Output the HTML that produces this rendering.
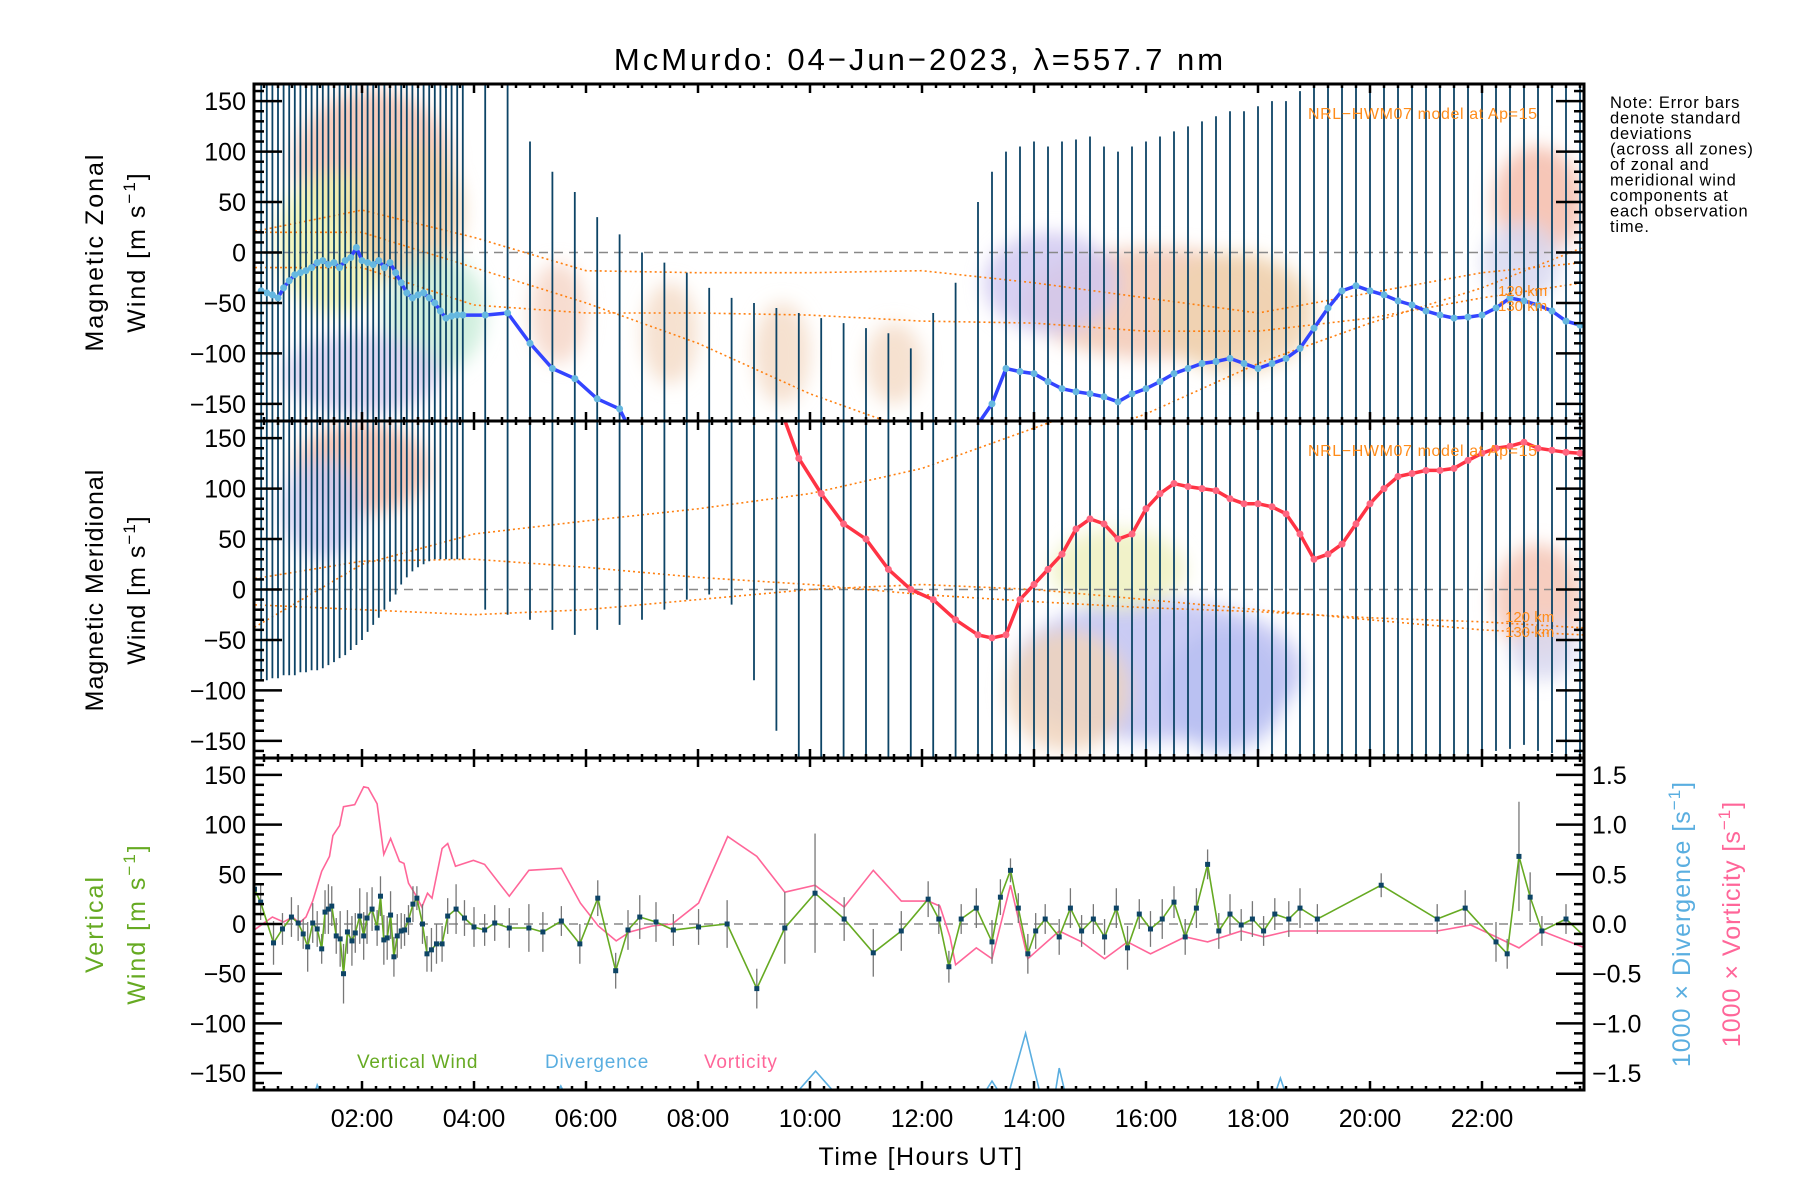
<!DOCTYPE html>
<html><head><meta charset="utf-8"><style>
body{margin:0;background:#fff;}
svg{display:block;font-family:"Liberation Sans",sans-serif;}
</style></head><body>
<svg id="chart" width="1800" height="1200" viewBox="0 0 1800 1200" xmlns="http://www.w3.org/2000/svg">
<defs>
<filter id="blur" x="-50%" y="-50%" width="200%" height="200%"><feGaussianBlur stdDeviation="9"/></filter>
<clipPath id="c1"><rect x="254" y="84" width="1330" height="337"/></clipPath>
<clipPath id="c2"><rect x="254" y="421" width="1330" height="337"/></clipPath>
<clipPath id="c3"><rect x="254" y="758" width="1330" height="332"/></clipPath>
</defs>
<text x="920" y="70" font-size="31" letter-spacing="3" text-anchor="middle">McMurdo: 04−Jun−2023, λ=557.7 nm</text>
<g id="layers"></g>
<text font-size="16.5" letter-spacing="0.8" x="1610">
<tspan x="1610" y="108">Note: Error bars</tspan><tspan x="1610" y="123.5">denote standard</tspan><tspan x="1610" y="139">deviations</tspan><tspan x="1610" y="154.5">(across all zones)</tspan><tspan x="1610" y="170">of zonal and</tspan><tspan x="1610" y="185.5">meridional wind</tspan><tspan x="1610" y="201">components at</tspan><tspan x="1610" y="216.5">each observation</tspan><tspan x="1610" y="232">time.</tspan></text>
<text x="921" y="1165" font-size="25" letter-spacing="1.5" text-anchor="middle">Time [Hours UT]</text>
<g font-size="25" letter-spacing="2" text-anchor="middle">
<text transform="translate(103,252) rotate(-90)">Magnetic Zonal</text>
<text transform="translate(145,252) rotate(-90)">Wind [m s<tspan dy="-10" font-size="17">−1</tspan><tspan dy="10">]</tspan></text></g>
<g font-size="25" letter-spacing="1" text-anchor="middle">
<text transform="translate(103,590) rotate(-90)">Magnetic Meridional</text>
<text transform="translate(145,590) rotate(-90)">Wind [m s<tspan dy="-10" font-size="17">−1</tspan><tspan dy="10">]</tspan></text></g>
<g font-size="25" letter-spacing="2" text-anchor="middle" fill="#66aa22">
<text transform="translate(103,924) rotate(-90)">Vertical</text>
<text transform="translate(145,924) rotate(-90)">Wind [m s<tspan dy="-10" font-size="17">−1</tspan><tspan dy="10">]</tspan></text></g>
<text font-size="25" letter-spacing="1" text-anchor="middle" fill="#5aaee0" transform="translate(1690,924) rotate(-90)">1000 × Divergence [s<tspan dy="-10" font-size="17">−1</tspan><tspan dy="10">]</tspan></text>
<text font-size="25" letter-spacing="1" text-anchor="middle" fill="#ff6699" transform="translate(1740,924) rotate(-90)">1000 × Vorticity [s<tspan dy="-10" font-size="17">−1</tspan><tspan dy="10">]</tspan></text>
<text x="357" y="1068" font-size="19" letter-spacing="0.8" fill="#66aa22">Vertical Wind</text>
<text x="545" y="1068" font-size="19" letter-spacing="0.8" fill="#5aaee0">Divergence</text>
<text x="704" y="1068" font-size="19" letter-spacing="0.8" fill="#ff6699">Vorticity</text>
<text x="1308" y="119" font-size="16" letter-spacing="0.6" fill="#ff8c1a">NRL−HWM07 model at Ap=15</text>
<text x="1308" y="456" font-size="16" letter-spacing="0.6" fill="#ff8c1a">NRL−HWM07 model at Ap=15</text>
<text x="1498" y="296" font-size="15" fill="#ff8c1a">120 km</text>
<text x="1498" y="311" font-size="15" fill="#ff8c1a">130 km</text>
<text x="1505" y="622" font-size="15" fill="#ff8c1a">120 km</text>
<text x="1505" y="637" font-size="15" fill="#ff8c1a">130 km</text>
</svg>
<script>
// ---- data ----
const obsT=[0.2,0.3,0.4,0.5,0.6,0.7,0.8,0.9,1.0,1.1,1.2,1.3,1.4,1.5,1.6,1.7,1.8,1.9,2.0,2.1,2.2,2.3,2.4,2.5,2.6,2.7,2.8,2.9,3.0,3.1,3.2,3.3,3.4,3.5,3.6,3.7,3.8,
4.2,4.6,5.0,5.4,5.8,6.2,6.6,7.0,7.4,7.8,8.2,8.6,9.0,9.4,
9.8,10.2,10.6,11.0,11.4,11.8,12.2,12.6,
13.0,13.25,13.5,13.75,14.0,14.25,14.5,14.75,15.0,15.25,15.5,15.75,16.0,16.25,16.5,16.75,17.0,17.25,17.5,17.75,18.0,18.25,18.5,18.75,19.0,19.25,19.5,19.75,20.0,20.25,20.5,20.75,21.0,21.25,21.5,21.75,22.0,22.25,22.5,22.75,23.0,23.25,23.5,23.75];
const zonal=[-38,-40,-42,-45,-35,-28,-22,-20,-18,-15,-10,-8,-12,-10,-15,-8,-5,5,-8,-10,-12,-8,-15,-10,-20,-30,-40,-45,-42,-40,-45,-50,-58,-65,-63,-62,-62,
-62,-60,-90,-115,-125,-145,-155,-200,-220,-240,-250,-260,-250,-240,
-250,-250,-250,-250,-250,-250,-250,-230,
-170,-150,-115,-118,-120,-128,-135,-138,-140,-143,-148,-140,-135,-128,-120,-115,-110,-108,-105,-110,-115,-110,-105,-95,-75,-55,-38,-33,-38,-42,-48,-52,-58,-62,-65,-64,-62,-55,-45,-48,-52,-58,-68,-72];
const zonalSd=[240,250,245,255,240,235,250,245,240,255,250,245,240,250,255,245,240,250,245,250,240,255,245,250,240,245,250,255,245,240,250,245,255,250,245,240,250,
262,260,200,195,185,180,173,200,210,220,215,215,200,185,
190,185,180,175,170,155,190,200,
220,230,215,223,230,233,245,250,255,248,248,245,245,243,240,240,240,243,245,250,260,260,255,255,250,250,255,250,245,250,255,250,245,250,255,250,245,250,255,250,245,250,255,250];
const merid=[220,220,220,220,220,220,220,220,220,220,220,220,220,220,220,220,220,220,220,220,220,220,220,220,220,220,220,220,220,220,220,220,220,220,220,220,220,
220,220,220,220,220,220,220,220,220,220,220,220,220,190,
130,95,65,50,20,0,-10,-30,
-45,-48,-45,-10,5,20,35,60,70,65,50,55,80,95,105,102,100,98,90,85,85,82,75,55,30,35,45,65,85,100,112,115,118,118,120,128,135,140,142,146,140,138,136,135];
const meridSd=[310,310,308,308,305,305,305,302,302,300,300,298,295,292,288,285,280,275,270,262,255,248,240,232,225,215,208,202,198,195,192,190,190,190,190,190,190,
240,245,250,260,265,260,255,250,240,230,225,235,310,330,
350,350,350,350,350,350,350,350,
300,300,300,300,300,300,300,300,300,300,300,300,300,300,300,300,300,300,300,300,300,300,300,300,300,300,300,300,300,300,300,300,300,300,300,300,300,300,300,300,300,300,300,300];
const wT=[0.08,0.19,0.42,0.58,0.74,0.86,0.95,1.03,1.12,1.2,1.28,1.34,1.4,1.46,1.54,1.61,1.67,1.74,1.82,1.88,1.96,2.03,2.09,2.18,2.27,2.33,2.39,2.45,2.51,2.57,2.63,2.7,2.76,2.83,2.91,2.98,3.08,3.16,3.24,3.33,3.43,3.53,3.68,3.83,4.0,4.19,4.37,4.63,4.98,5.23,5.56,5.89,6.21,6.53,6.75,6.96,7.25,7.56,8.01,8.52,9.05,9.55,10.09,10.61,11.13,11.63,12.11,12.3,12.48,
12.7,12.97,13.25,13.4,13.58,13.72,13.89,14.03,14.2,14.45,14.65,14.85,15.06,15.26,15.47,15.67,15.88,16.08,16.29,16.5,16.7,16.9,17.1,17.3,17.5,17.7,17.9,18.1,18.3,18.55,18.75,19.06,20.2,21.2,21.7,22.25,22.45,22.66,22.86,23.07,23.5,23.84];
const wV=[35,22,-19,-5,7,1,-10,-23,1,-5,-25,12,15,18,-12,-15,-50,-8,-17,-9,8,-12,6,15,-4,28,-16,-14,9,-33,-12,-7,-6,4,20,26,0,-30,-26,-20,-20,8,15,6,-3,-6,1,-4,-4,-8,3,-20,26,-47,-6,7,2,-6,-3,0,-65,-4,31,5,-29,-7,25,5,-43,
5,16,-18,27,54,16,-30,-7,5,-13,16,-7,5,-13,16,-24,10,-5,5,22,-13,16,60,-7,10,-1,5,-7,10,5,16,5,39,5,16,-18,-30,68,27,-7,5,-13];
const wSd=[20,18,22,16,20,18,15,25,20,18,15,22,25,20,18,28,30,22,25,20,28,24,26,22,18,20,25,22,24,20,22,18,16,15,18,12,20,18,22,20,18,18,25,18,20,16,18,20,24,20,15,20,18,18,20,22,20,16,18,24,20,36,60,22,24,20,18,15,16,
15,20,22,18,12,15,20,18,15,18,20,16,15,18,20,22,15,18,20,16,18,20,15,18,20,16,18,15,16,18,20,15,12,15,18,20,15,55,25,15,15,18];
const vortT=[0.05,0.4,0.6,0.76,0.88,1.0,1.12,1.28,1.42,1.48,1.6,1.67,1.87,2.03,2.11,2.27,2.39,2.51,2.67,2.75,2.83,2.95,3.07,3.17,3.25,3.43,3.53,3.67,3.99,4.19,4.63,4.98,5.56,5.9,6.22,6.54,6.78,7.18,7.54,8.01,8.53,9.05,9.55,10.09,10.61,11.13,11.63,12.11,12.32,12.5,
12.6,12.97,13.25,13.58,13.89,14.45,14.85,15.26,15.67,16.08,16.7,17.1,17.7,18.1,18.55,19.06,20.2,21.2,21.8,22.25,22.66,23.07,23.84];
const vortV=[-0.07,0.07,0.02,0.07,0.01,0.07,0.23,0.53,0.68,0.89,0.99,1.18,1.2,1.38,1.37,1.21,0.7,0.86,0.63,0.61,0.41,0.3,0.17,0.31,0.26,0.76,0.81,0.58,0.64,0.6,0.28,0.54,0.56,0.21,-0.02,-0.17,-0.08,-0.02,0,0.21,0.88,0.68,0.32,0.39,0.17,0.54,0.23,0.23,0.18,-0.13,
-0.41,-0.24,-0.35,0.39,-0.35,-0.07,-0.18,-0.35,-0.18,-0.3,-0.13,-0.18,-0.07,-0.13,-0.07,-0.07,-0.07,-0.07,-0.01,-0.13,-0.24,-0.07,-0.24];
const divT=[0.1,1.1,1.2,1.35,5.4,5.55,5.7,9.6,10.1,10.6,13.0,13.25,13.5,13.85,14.15,14.35,14.45,14.6,18.25,18.4,18.55,23.8];
const divV=[-1.8,-1.8,-1.62,-1.8,-1.8,-1.63,-1.8,-1.8,-1.48,-1.8,-1.8,-1.58,-1.8,-1.1,-1.8,-1.8,-1.45,-1.8,-1.8,-1.55,-1.8,-1.8];
const hwmT=[0,2,4,6,8,10,12,14,16,18,20,22,23.8];
const hwmZ1=[20,42,15,-18,-20,-20,-18,-30,-45,-60,-40,-20,-10];
const hwmZ2=[-15,-15,-52,-60,-60,-62,-68,-70,-78,-78,-65,-45,-30];
const hwmZ3=[20,20,-15,-50,-90,-140,-180,-200,-160,-110,-70,-35,5];
const hwmM1=[-40,25,55,68,80,95,120,160,200,220,220,220,220];
const hwmM2=[10,28,30,22,12,5,-5,-12,-18,-22,-28,-32,-38];
const hwmM3=[-15,-20,-25,-20,-10,0,5,0,-10,-20,-30,-40,-45];
const yTicks=[-150,-100,-50,0,50,100,150];
const rTickLabels=["−1.5","−1.0","−0.5","0.0","0.5","1.0","1.5"];
const xTickLabels=["02:00","04:00","06:00","08:00","10:00","12:00","14:00","16:00","18:00","20:00","22:00"];
const xTickHours=[2,4,6,8,10,12,14,16,18,20,22];
// cloud blobs (h, v, rh, rv, colour) – background scatter density
const cloudH=[2.2,1.5,2.8,3.3,2.0,16.2,14.3,17.6,23,22.7,2,1.3,16.2,14.6,17.4,23,5.5,7.5,9.5,11.5,15.5,23.1];
const cloudV=[90,10,40,-60,-120,-50,-30,-60,50,-10,120,80,-80,-100,-100,-10,-60,-80,-100,-110,20,-60];
const cloudRH=[1.4,1.0,1.0,0.9,1.4,2.4,1.2,1.4,0.8,0.7,1.2,0.7,2.6,1.1,1.1,0.8,0.5,0.5,0.5,0.5,1.2,0.6];
const cloudRV=[70,70,70,60,40,55,50,60,55,40,45,50,70,60,60,55,50,50,50,40,40,30];
const cloudPanel=[1,1,1,1,1,1,1,1,1,1,2,2,2,2,2,2,1,1,1,1,2,2];
const cloudCol=["#f4c2b0","#eef2b0","#f0cfa8","#c8ecd8","#d8d0f0","#f2c8b4","#d0c8f0","#f0d4b0","#f4bcaa","#d8d8f0","#f4bcaa","#ccccf2","#bfc2f2","#f0d4bc","#b8c0f2","#f4c4b4","#f6d6c8","#f4dcc8","#f4dcc8","#f4dcc8","#eef0c0","#d8d8f0"];

// ---- scales ----
const X0=250,XK=56,L=254,R=1584;
const xS=h=>X0+XK*h;
const panels=[{top:84,bot:421},{top:421,bot:758},{top:758,bot:1090}];
const yS=(v,p)=>{const P=panels[p];return P.top+(167-v)/334*(P.bot-P.top);};
const NS="http://www.w3.org/2000/svg";
const root=document.getElementById('layers');
function mk(tag,attrs,parent){const e=document.createElementNS(NS,tag);for(const k in attrs)e.setAttribute(k,attrs[k]);(parent||root).appendChild(e);return e;}
function grp(name,clip){const g=mk('g',clip?{'clip-path':'url(#'+clip+')'}:{});return g;}
function pts(ts,vs,p,k){let s=[];for(let i=0;i<Math.min(ts.length,vs.length);i++)s.push(xS(ts[i]).toFixed(1)+','+yS(vs[i]*(k||1),p).toFixed(1));return s.join(' ');}

// clouds
const gc1=grp('scatter-cloud-zonal','c1'),gc2=grp('scatter-cloud-meridional','c2');
const gi1=mk('g',{filter:'url(#blur)'},gc1),gi2=mk('g',{filter:'url(#blur)'},gc2);
for(let i=0;i<cloudH.length;i++){const p=cloudPanel[i]-1;const g=p?gi2:gi1;
 const e=mk('ellipse',{cx:xS(cloudH[i]),cy:yS(cloudV[i],p),rx:cloudRH[i]*XK,ry:cloudRV[i]*(panels[p].bot-panels[p].top)/334,fill:cloudCol[i],opacity:0.85},g);
 }

// zero lines
for(let p=0;p<3;p++){const z=mk('line',{x1:L,x2:R,y1:yS(0,p),y2:yS(0,p),stroke:'#888','stroke-width':1.5,'stroke-dasharray':'9,6'});
 }

// HWM model lines
const hz=[hwmZ1,hwmZ2,hwmZ3],hm=[hwmM1,hwmM2,hwmM3];
const gh1=grp('hwm-model-zonal','c1'),gh2=grp('hwm-model-meridional','c2');
hz.forEach(a=>{const l=mk('polyline',{points:pts(hwmT,a,0),fill:'none',stroke:'#ff8010','stroke-width':1.6,'stroke-dasharray':'2,3'},gh1);});
hm.forEach(a=>{const l=mk('polyline',{points:pts(hwmT,a,1),fill:'none',stroke:'#ff8010','stroke-width':1.6,'stroke-dasharray':'2,3'},gh2);});

// error bars
const ge1=grp('zonal-error-bars','c1'),ge2=grp('meridional-error-bars','c2');
for(let i=0;i<obsT.length;i++){const x=xS(obsT[i]);
 const a=mk('line',{x1:x,x2:x,y1:yS(zonal[i]+zonalSd[i],0),y2:yS(zonal[i]-zonalSd[i],0),stroke:'#0d4466','stroke-width':1.8},ge1);
 
 const b=mk('line',{x1:x,x2:x,y1:yS(merid[i]+meridSd[i],1),y2:yS(merid[i]-meridSd[i],1),stroke:'#0d4466','stroke-width':1.8},ge2);
 }

// wind lines
const gl1=grp('zonal-wind-series','c1'),gl2=grp('meridional-wind-series','c2');
const zl=mk('polyline',{points:pts(obsT,zonal,0),fill:'none',stroke:'#3344ff','stroke-width':3.5},gl1);

const ml=mk('polyline',{points:pts(obsT,merid,1),fill:'none',stroke:'#ff3344','stroke-width':3.5},gl2);

for(let i=0;i<obsT.length;i++){
 const a=mk('circle',{cx:xS(obsT[i]),cy:yS(zonal[i],0),r:3.5,fill:'#66b8e0'},gl1);
 const b=mk('circle',{cx:xS(obsT[i]),cy:yS(merid[i],1),r:3.5,fill:'#ff6680'},gl2);}

// panel 3
const g3=grp('vertical-panel-series','c3');
const dv=mk('polyline',{points:pts(divT,divV,2,100),fill:'none',stroke:'#5aaee0','stroke-width':1.6},g3);

const vo=mk('polyline',{points:pts(vortT,vortV,2,100),fill:'none',stroke:'#ff6699','stroke-width':1.6},g3);

for(let i=0;i<Math.min(wT.length,wV.length,wSd.length);i++){const x=xS(wT[i]);
 const e=mk('line',{x1:x,x2:x,y1:yS(wV[i]+wSd[i],2),y2:yS(wV[i]-wSd[i],2),stroke:'#777','stroke-width':1.3},g3);
 }
const wl=mk('polyline',{points:pts(wT,wV,2),fill:'none',stroke:'#66aa22','stroke-width':1.6},g3);

for(let i=0;i<wT.length;i++){const r=mk('rect',{x:xS(wT[i])-2.5,y:yS(wV[i],2)-2.5,width:5,height:5,fill:'#0d4466'},g3);
 }

// axes
const ga=grp('axes',null);
for(let p=0;p<3;p++){const P=panels[p];
 const f=mk('rect',{x:L,y:P.top,width:R-L,height:P.bot-P.top,fill:'none',stroke:'#000','stroke-width':3},ga);
 
 for(let v=-160;v<=160;v+=10){const y=yS(v,p);const len=(v%50===0)?28:10;
  mk('line',{x1:L,x2:L+len,y1:y,y2:y,stroke:'#000','stroke-width':2.5},ga);
  mk('line',{x1:R,x2:R-len,y1:y,y2:y,stroke:'#000','stroke-width':2.5},ga);}
 for(let h=0.25;h<23.9;h+=0.25){const x=xS(h);if(x<L||x>R)continue;const len=(Math.abs(h%2)<0.01)?9:4;
  mk('line',{x1:x,x2:x,y1:P.top,y2:P.top+len,stroke:'#000','stroke-width':2.5},ga);
  mk('line',{x1:x,x2:x,y1:P.bot,y2:P.bot-len,stroke:'#000','stroke-width':2.5},ga);}
 yTicks.forEach(v=>{const t=mk('text',{x:L-8,y:yS(v,p)+9,'font-size':25,'text-anchor':'end'},ga);t.textContent=String(v).replace('-','−');
  });
}
rTickLabels.forEach((s,i)=>{const t=mk('text',{x:R+8,y:yS(yTicks[i],2)+9,'font-size':25},ga);t.textContent=s;
 });
xTickHours.forEach((h,i)=>{const t=mk('text',{x:xS(h),y:1127,'font-size':25,'text-anchor':'middle'},ga);t.textContent=xTickLabels[i];
 });
</script>
</body></html>
